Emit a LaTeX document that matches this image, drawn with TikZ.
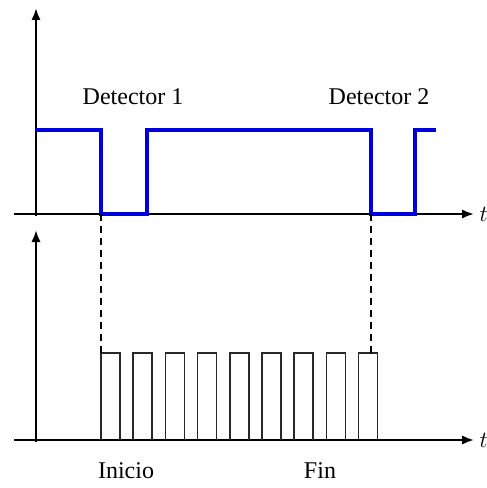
\documentclass[tikz,border=0pt]{standalone}
\usepackage{fontspec}
\setmainfont{Liberation Serif}
\usetikzlibrary{arrows.meta}
\definecolor{sigblue}{RGB}{0,0,220}
\tikzset{every picture/.style={line width=0.75pt}}
\tikzset{
  axis/.style={line width=1.7pt,-{Latex[length=9pt,width=7pt]}},
  signal/.style={color=sigblue,line width=3pt},
  pulse/.style={line width=1.2pt,color={rgb,255:red,40;green,40;blue,40}},
  guide/.style={line width=1.1pt,dash pattern={on 5pt off 4pt}},
  lbl/.style={font=\fontsize{18}{20}\selectfont,inner sep=0pt}
}

\begin{document}
\begin{tikzpicture}[x=0.75pt,y=0.75pt,yscale=-1,xscale=1]
\useasboundingbox (0,0) rectangle (486,488);
\clip (0,0) rectangle (486,488);

%Axes: top plot
\coordinate (o1) at (36,214);
\draw [axis] (36,216) -- (36,8);
\draw [axis] (14,214) -- (474,214);
%Axes: bottom plot
\coordinate (o2) at (36,440);
\draw [axis] (36,442) -- (36,230);
\draw [axis] (14,440) -- (474,440);

%Signal from the detectors
\coordinate (d1) at (101,214);
\coordinate (d2) at (371,214);
\draw [signal] (36,130) -- (101,130) -- (d1) -- (147,214) -- (147,130) -- (371,130) -- (d2) -- (415,214) -- (415,130) -- (436,130);

%Pulse train
\coordinate (p1) at (101,353);
\coordinate (p2) at (371,353);
\foreach \i in {0,...,8}
  \draw [pulse] ({101+32.2*\i},440) -- ({101+32.2*\i},353) -- ({120+32.2*\i},353) -- ({120+32.2*\i},440);

%Dashed guides
\draw [guide] (d1) -- (p1);
\draw [guide] (d2) -- (p2);

% Text Node
\node [lbl] (det1) at (133,97) {Detector 1};
% Text Node
\node [lbl] (det2) at (379,97) {Detector 2};
% Text Node
\node [lbl] (ini) at (126,471) {Inicio};
% Text Node
\node [lbl] (fin) at (320,471) {Fin};
% Text Node
\node [lbl,anchor=west] (t1) at (479,214) {$t$};
% Text Node
\node [lbl,anchor=west] (t2) at (479,440) {$t$};

\end{tikzpicture}
\end{document}
